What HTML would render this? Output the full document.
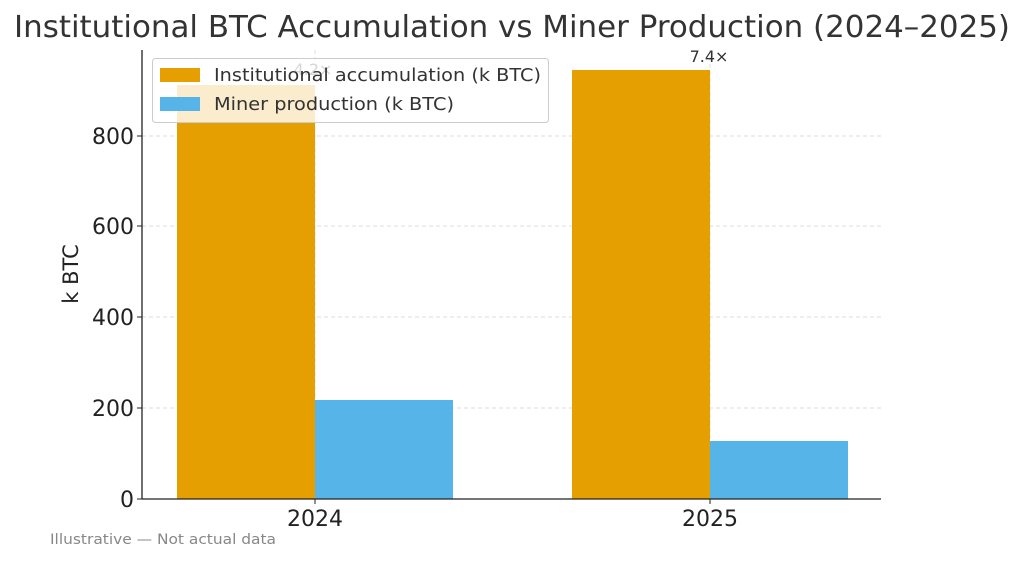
<!DOCTYPE html>
<html><head><style>body{margin:0;background:#fff}svg{display:block}</style></head><body>
<svg width="1024" height="561" xmlns="http://www.w3.org/2000/svg" font-family="'DejaVu Sans','Liberation Sans',sans-serif">
<text x="14" y="37" font-size="30" fill="#333" textLength="996" lengthAdjust="spacingAndGlyphs">Institutional BTC Accumulation vs Miner Production (2024–2025)</text>
<g stroke="#ddd" stroke-dasharray="4,3" stroke-width="1">
<line x1="142" x2="881" y1="408" y2="408"/><line x1="142" x2="881" y1="317" y2="317"/><line x1="142" x2="881" y1="226" y2="226"/><line x1="142" x2="881" y1="136" y2="136"/>
<line x1="315" x2="315" y1="50" y2="499"/><line x1="710" x2="710" y1="50" y2="499"/>
</g>
<rect x="177" y="85" width="138" height="414" fill="#E69F00"/>
<rect x="315" y="400" width="138" height="99" fill="#56B4E9"/>
<rect x="572" y="70" width="138" height="429" fill="#E69F00"/>
<rect x="710" y="441" width="138" height="58" fill="#56B4E9"/>
<text x="313" y="75" text-anchor="middle" font-size="16" fill="#333">4.2×</text>
<text x="709" y="62" text-anchor="middle" font-size="16" fill="#333">7.4×</text>
<line x1="142" y1="50" x2="142" y2="499" stroke="#222" stroke-width="1.3"/>
<line x1="142" y1="499" x2="881" y2="499" stroke="#222" stroke-width="1.3"/>
<g font-size="22" fill="#222" text-anchor="end">
<text x="134" y="507">0</text><text x="134" y="416">200</text><text x="134" y="325">400</text><text x="134" y="234">600</text><text x="134" y="144">800</text>
</g>
<g stroke="#222"><line x1="137" x2="142" y1="499" y2="499"/><line x1="137" x2="142" y1="408" y2="408"/><line x1="137" x2="142" y1="317" y2="317"/><line x1="137" x2="142" y1="226" y2="226"/><line x1="137" x2="142" y1="136" y2="136"/><line x1="315" x2="315" y1="499" y2="504"/><line x1="710" x2="710" y1="499" y2="504"/></g>
<text x="315" y="526" text-anchor="middle" font-size="22" fill="#222">2024</text>
<text x="710" y="526" text-anchor="middle" font-size="22" fill="#222">2025</text>
<text transform="translate(78,274) rotate(-90)" text-anchor="middle" font-size="21" fill="#222">k BTC</text>
<rect x="152.5" y="58.5" width="396" height="64" rx="3" fill="#fff" fill-opacity="0.8" stroke="#ccc"/>
<rect x="160" y="68" width="40" height="14" fill="#E69F00"/>
<rect x="160" y="97" width="40" height="14" fill="#56B4E9"/>
<text x="214" y="81" font-size="18" fill="#333" textLength="327" lengthAdjust="spacingAndGlyphs">Institutional accumulation (k BTC)</text>
<text x="214" y="110" font-size="18" fill="#333" textLength="240" lengthAdjust="spacingAndGlyphs">Miner production (k BTC)</text>
<text x="50" y="544" font-size="14" fill="#888" textLength="226" lengthAdjust="spacingAndGlyphs">Illustrative — Not actual data</text>
</svg>
</body></html>
